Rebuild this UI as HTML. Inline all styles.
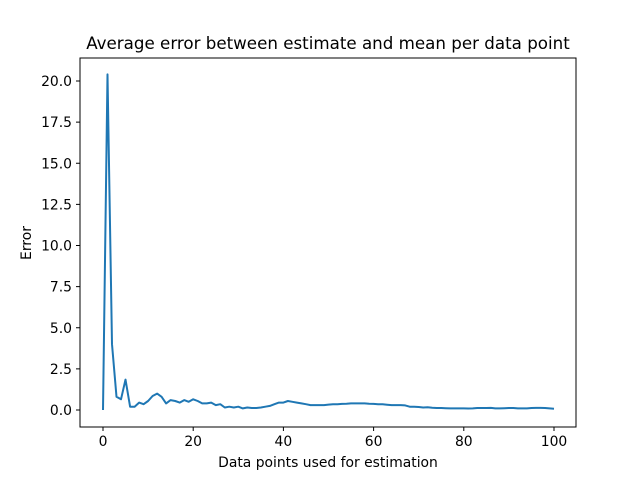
<!DOCTYPE html>
<html><head><meta charset="utf-8"><style>body{margin:0;background:#fff}svg{display:block;font-family:"DejaVu Sans","Liberation Sans",sans-serif}</style></head>
<body>
<svg id="chart" width="640" height="480">
<rect width="640" height="480" fill="#fff"/>
<text x="328" y="49" font-size="16.7" text-anchor="middle">Average error between estimate and mean per data point</text>
<g id="ticks"></g>
<path id="line" fill="none" stroke="#1f77b4" stroke-width="2" stroke-linejoin="round"/>
<rect x="80" y="58" width="496" height="369" fill="none" stroke="#000" stroke-width="1"/>
<text x="328" y="467" font-size="13.9" text-anchor="middle">Data points used for estimation</text>
<text x="31" y="243" font-size="13.9" text-anchor="middle" transform="rotate(-90 31 243)">Error</text>
</svg>
<script>
const errors=[0,20.4,4.0,0.8,0.65,1.85,0.2,0.2,0.45,0.35,0.55,0.85,1.0,0.8,0.4,0.6,0.55,0.45,0.6,0.5,0.65,0.55,0.4,0.4,0.45,0.3,0.35,0.15,0.2,0.15,0.2,0.1,0.15,0.12,0.12,0.15,0.2,0.25,0.35,0.45,0.45,0.55,0.5,0.45,0.4,0.35,0.3,0.3,0.3,0.3,0.33,0.35,0.35,0.37,0.38,0.4,0.4,0.4,0.4,0.38,0.37,0.35,0.35,0.32,0.3,0.3,0.3,0.28,0.2,0.2,0.18,0.15,0.17,0.14,0.12,0.12,0.11,0.1,0.1,0.1,0.1,0.09,0.1,0.12,0.12,0.12,0.13,0.1,0.1,0.11,0.12,0.12,0.1,0.1,0.1,0.12,0.13,0.13,0.12,0.1,0.08];
const xTicks=[0,20,40,60,80,100];
const yTicks=[0,2.5,5,7.5,10,12.5,15,17.5,20];
const xs=v=>103+v*4.51, ys=v=>410-v*16.45;
const NS="http://www.w3.org/2000/svg";
const g=document.getElementById('ticks');
function mk(t,a){const e=document.createElementNS(NS,t);for(const k in a)e.setAttribute(k,a[k]);g.appendChild(e);return e;}
xTicks.forEach(v=>{
 const l=mk('line',{x1:xs(v),x2:xs(v),y1:427,y2:431,stroke:'#000'});
 
 
 const t=mk('text',{x:xs(v),y:446,'font-size':13.9,'text-anchor':'middle'});t.textContent=v;
 
 
});
yTicks.forEach(v=>{
 const l=mk('line',{x1:76,x2:80,y1:ys(v),y2:ys(v),stroke:'#000'});
 
 
 const t=mk('text',{x:72,y:ys(v)+5,'font-size':13.9,'text-anchor':'end'});t.textContent=v.toFixed(1);
 
 
});
document.getElementById('line').setAttribute('d',errors.map((v,i)=>(i?'L':'M')+xs(i).toFixed(1)+','+ys(v).toFixed(1)).join(''));
</script>
</body></html>
